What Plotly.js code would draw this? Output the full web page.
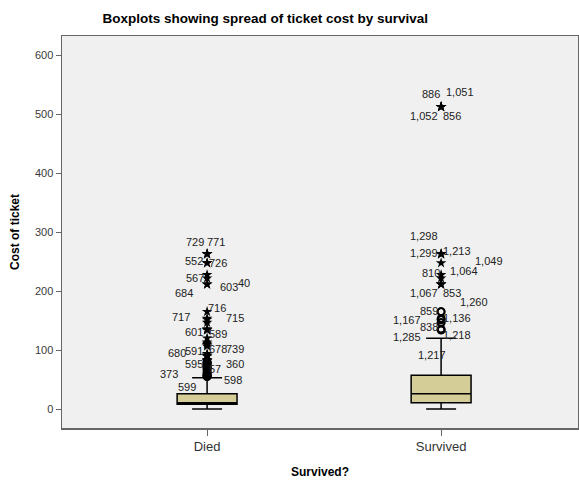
<!DOCTYPE html>
<html>
<head>
<meta charset="utf-8">
<script src="https://cdn.plot.ly/plotly-3.0.1.min.js"></script>
<style>html,body{margin:0;padding:0;background:#fff;}#chart{width:579px;height:484px;}</style>
</head>
<body>
<div id="chart"></div>
<script>
// ---- data ----
const categories = ['Died', 'Survived'];
const q1 = [7.9, 10.5];
const median = [10.5, 26];
const q3 = [26, 57];
const lowerFence = [0, 0];
const upperFence = [53, 120];

// extreme outliers (stars) and mild outliers (circles), cost of ticket
const diedExtreme = [263, 263, 262.4, 247.5, 247.5, 227.5, 221.8, 211.5, 211.3, 164.9, 153.5, 151.6, 146.5, 135.6, 134.5, 133.7, 120, 113.3, 110.9, 108.9, 106.4, 93.5, 91.1, 90, 89.1, 83.5, 82.2, 81.9];
const diedMild = [79.7, 79.2, 78.9, 77.9, 76.7, 75.3, 73.5, 71.3, 71, 69.6, 69.3, 66.6, 65, 62, 61.4, 59.4, 58, 57.8, 56.9, 56.5, 55.9, 55.4, 55];
const survivedExtreme = [512.3, 512.3, 512.3, 512.3, 263, 263, 262.4, 247.5, 227.5, 221.8, 211.5, 211.3, 211.3];
const survivedMild = [164.9, 164.9, 153.5, 151.6, 151.6, 146.5, 146.5, 135.6, 134.5, 133.7];

// case labels: text, value level, group
const diedLabels = ['729', '771', '552', '726', '567', '603', '40', '684', '716', '717', '715', '601', '589', '680', '591', '678', '739', '595', '57', '360', '373', '598', '599'];
const diedLabelValues = [283.6, 283.6, 250.8, 247.5, 222.6, 207.3, 214, 196, 171.7, 156.5, 153.7, 131, 127.6, 94.3, 98.3, 101.7, 101.7, 75.7, 67.2, 75.7, 58.7, 49.2, 37.8];
const diedLabelDx = [-12.5, 8.5, -13.5, 10.5, -12.5, 22, 36.5, -23, 9.5, -26, 27.5, -13, 10.5, -30.5, -13.3, 11, 27.7, -13.3, 7.5, 27.7, -38, 26, -19.7];

const survLabels = ['886', '1,051', '1,052', '856', '1,298', '1,299', '1,213', '1,049', '810', '1,064', '1,067', '853', '1,260', '859', '1,167', '1,136', '838', '1,285', '1,218', '1,217'];
const survLabelValues = [533.4, 536.8, 497, 497, 293, 264, 267.8, 250.8, 231, 233.9, 196, 196, 181.9, 166, 150.8, 153.7, 139.5, 122.5, 125.4, 91.5];
const survLabelDx = [-10.4, 19.1, -17, 11.3, -17, -17, 16, 48.3, -10.4, 22.8, -17, 11.3, 32.8, -12.5, -33.9, 16, -12.5, -33.9, 16, -9.2];

const yTicks = [0, 100, 200, 300, 400, 500, 600];

// ---- traces ----
const traces = [];
traces.push({
  type: 'box',
  x: categories,
  q1: q1, median: median, q3: q3,
  lowerfence: lowerFence, upperfence: upperFence,
  boxpoints: false,
  width: 0.256,
  whiskerwidth: 0.5,
  fillcolor: '#d4cd98',
  line: {color: '#000', width: 1.5},
  hoverinfo: 'skip',
  showlegend: false
});

function pts(cat, vals, symbol) {
  return {
    type: 'scatter', mode: 'markers',
    x: vals.map(() => cat), y: vals,
    marker: symbol === 'star'
      ? {symbol: 'star', size: 8, color: '#000', line: {width: 0}}
      : {symbol: 'circle-open', size: 7, color: '#000', line: {width: 1.8, color: '#000'}},
    hoverinfo: 'skip', showlegend: false, cliponaxis: false
  };
}
traces.push(pts('Died', diedMild, 'circle'));
traces.push(pts('Died', diedExtreme, 'star'));
traces.push(pts('Survived', survivedMild, 'circle'));
traces.push(pts('Survived', survivedExtreme, 'star'));

const annotations = [];
function addLabels(cat, texts, vals, dxs) {
  texts.forEach((t, i) => {
    annotations.push({
      x: cat, y: vals[i], xref: 'x', yref: 'y', text: t, showarrow: false,
      xshift: dxs[i], xanchor: 'center', yanchor: 'middle',
      font: {family: 'Arial, Liberation Sans, sans-serif', size: 11, color: '#222'}
    });
  });
}
addLabels('Died', diedLabels, diedLabelValues, diedLabelDx);
addLabels('Survived', survLabels, survLabelValues, survLabelDx);

const layout = {
  width: 579, height: 484,
  margin: {l: 62, r: 1, t: 36, b: 56, pad: 0},
  paper_bgcolor: '#ffffff',
  plot_bgcolor: '#f0f0f0',
  font: {family: 'Arial, Liberation Sans, sans-serif', color: '#333'},
  title: {
    text: 'Boxplots showing spread of ticket cost by survival',
    font: {family: 'Arial, Liberation Sans, sans-serif', size: 13.5, color: '#000', weight: 'bold'},
    xref: 'container', x: 0.458, xanchor: 'center',
    yref: 'container', y: 0.963, yanchor: 'middle'
  },
  xaxis: {
    type: 'category',
    range: [-0.62, 1.585],
    showgrid: false, zeroline: false,
    showline: true, linecolor: '#666', linewidth: 1.5, mirror: true,
    ticks: 'outside', ticklen: 6, tickcolor: '#666', tickwidth: 1,
    tickfont: {size: 13, color: '#333'},
    title: {text: 'Survived?', standoff: 14,
      font: {size: 12, color: '#000', weight: 'bold'}}
  },
  yaxis: {
    range: [-32.2, 632.2],
    tickvals: yTicks,
    showgrid: false, zeroline: false,
    showline: true, linecolor: '#666', linewidth: 1.5, mirror: true,
    ticks: 'outside', ticklen: 5, tickcolor: '#666', tickwidth: 1,
    tickfont: {size: 11, color: '#3a3a3a'},
    title: {text: 'Cost of ticket', standoff: 12,
      font: {size: 12, color: '#000', weight: 'bold'}}
  },
  annotations: annotations,
  showlegend: false
};

Plotly.newPlot('chart', traces, layout, {displayModeBar: false, staticPlot: true});
</script>
</body>
</html>
